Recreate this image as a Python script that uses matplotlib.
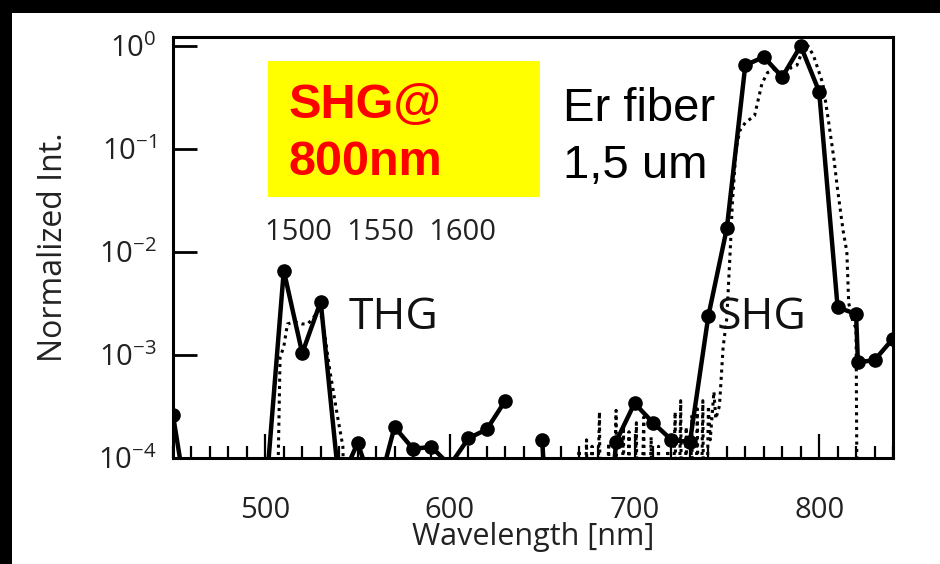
import numpy as np
import matplotlib
matplotlib.use("Agg")
import matplotlib.pyplot as plt
from matplotlib.patches import Rectangle
from matplotlib.ticker import LogLocator, MultipleLocator, NullLocator

# measured harmonic spectrum (solid, markers); NaN = no data point
wl_meas = [450, 460, 470, 480, 490, 500, 510, 520, 530, 540, 550, 560, 570,
           580, 590, 600, 610, 620, 630, 640, 650, 660, 670, 680, 690, 700,
           710, 720, 730, 740, 750, 760, 770, 780, 790, 800, 810, 820, 821,
           830, 840]
int_meas = [2.6e-4, 2e-5, 1e-6, 1e-6, 1e-6, 3.9e-5, 6.6e-3, 1.04e-3, 3.3e-3,
            5.5e-5, 1.4e-4, 4.2e-5, 2.0e-4, 1.23e-4, 1.28e-4, 8.5e-5, 1.55e-4,
            1.9e-4, 3.6e-4, np.nan, 1.5e-4, 1e-7, np.nan, 1e-6, 1.44e-4,
            3.4e-4, 2.2e-4, 1.5e-4, 1.43e-4, 2.4e-3, 1.7e-2, 0.65, 0.78, 0.50,
            1.0, 0.36, 2.9e-3, 2.5e-3, 8.5e-4, 8.9e-4, 1.44e-3]

# reference spectrum (dotted)
wl_ref = [505, 508, 510, 512, 516, 520, 523, 526, 529, 531, 535, 539, 542, 545,
          668, 670, 671, 674, 675, 677, 678, 681, 682, 686, 687, 690, 691, 694,
          695, 697, 698, 701, 702, 705, 706, 709, 710, 713, 714, 718, 719, 722,
          723, 725, 726, 728, 729, 731, 732, 734, 735, 737, 738, 740, 741, 743,
          744, 746, 748, 750, 752, 753, 755, 757, 760, 765, 769, 772, 776, 781,
          785, 788, 791, 794, 797, 802, 805, 808, 810, 813, 815, 816, 818, 820,
          821]
int_ref = [1e-6, 9.5e-4, 1.2e-3, 2.0e-3, 2.1e-3, 2.0e-3, 2.0e-3, 2.3e-3, 2.7e-3,
           2.2e-3, 7e-4, 2.6e-4, 1.3e-4, 1e-6,
           1e-6, 1.2e-4, 1e-6, 1.5e-4, 1e-6, 1.3e-4, 1e-6, 2.8e-4, 1e-6, 1.4e-4,
           1e-6, 2.9e-4, 1e-6, 2.0e-4, 1e-6, 1.8e-4, 1e-6, 2.2e-4, 1e-6, 2.5e-4,
           1e-6, 1.6e-4, 1e-6, 1.3e-4, 1e-6, 1.2e-4, 1e-6, 2.8e-4, 1e-6, 3.6e-4,
           1e-6, 2.0e-4, 1e-6, 2.6e-4, 1e-6, 3.0e-4, 1e-6, 3.6e-4, 1e-6, 3.2e-4,
           1.5e-4, 4.4e-4, 2.4e-4, 3.2e-4, 1.2e-3, 2.3e-3, 1.2e-2, 3.0e-2, 0.10,
           0.15, 0.18, 0.21, 0.43, 0.55, 0.60, 0.52, 0.62, 0.65, 0.90, 1.0, 0.80,
           0.43, 0.19, 0.08, 0.04, 0.016, 0.01, 3.2e-3, 2.2e-3, 1.8e-3, 1e-6]

plt.rcParams["font.family"] = ["Open Sans", "DejaVu Sans"]
plt.rcParams["mathtext.fontset"] = "custom"
plt.rcParams["mathtext.rm"] = "Open Sans"
plt.rcParams["axes.unicode_minus"] = False

fig = plt.figure(figsize=(9.4, 5.64), dpi=100, facecolor="white")
# black frame strips on top and left
fig.patches.append(Rectangle((0, 1 - 13 / 564), 1, 13 / 564, transform=fig.transFigure,
                             facecolor="black", edgecolor="none", zorder=-1))
fig.patches.append(Rectangle((0, 0), 12 / 940, 1, transform=fig.transFigure,
                             facecolor="black", edgecolor="none", zorder=-1))

ax = fig.add_axes([173 / 940, 1 - 458 / 564, 720 / 940, 421 / 564])
ax.plot(wl_ref, int_ref, color="black", lw=2.2, linestyle=(0, (1, 1.4)))
ax.plot(wl_meas, int_meas, color="black", lw=3.2, marker="o", ms=9.5)

ax.set_yscale("log")
ax.set_xlim(450, 840)
ax.set_ylim(1e-4, 1.22)
ax.xaxis.set_major_locator(MultipleLocator(100))
ax.xaxis.set_minor_locator(MultipleLocator(10))
ax.yaxis.set_major_locator(LogLocator(base=10, numticks=10))
ax.yaxis.set_minor_locator(NullLocator())

for s in ax.spines.values():
    s.set_linewidth(2.2)
ax.tick_params(axis="x", which="major", direction="in", length=17, width=1.6,
               labelsize=21, pad=27, top=False)
ax.tick_params(axis="x", which="minor", direction="in", length=9, width=1.6, top=False)
ax.tick_params(axis="y", which="major", direction="in", length=17, width=2,
               labelsize=21, pad=12, right=False)
for lbl in ax.get_xticklabels() + ax.get_yticklabels():
    lbl.set_color("#222222")

ax.set_xlabel("Wavelength [nm]", fontsize=22, color="#222222", labelpad=-2)
ax.set_ylabel("Normalized Int.", fontsize=23, color="#222222", labelpad=20)

# yellow label box
ax.add_patch(Rectangle((0.132, 0.620), 0.378, 0.323, transform=ax.transAxes,
                       facecolor="#ffff00", edgecolor="none", zorder=3))
arial = ["Liberation Sans", "DejaVu Sans"]
ax.text(0.160, 0.808, "SHG@", transform=ax.transAxes, fontsize=35,
        fontweight="bold", color="red", family=arial, va="baseline", zorder=4)
ax.text(0.160, 0.672, "800nm", transform=ax.transAxes, fontsize=35,
        fontweight="bold", color="red", family=arial, va="baseline", zorder=4)
ax.text(0.542, 0.800, "Er fiber", transform=ax.transAxes, fontsize=34,
        color="black", family=arial, va="baseline")
ax.text(0.542, 0.664, "1,5 um", transform=ax.transAxes, fontsize=34,
        color="black", family=arial, va="baseline")

ax.text(562.5, 10 ** -1.81, "1500  1550  1600", fontsize=21, color="#222222",
        ha="center", va="center")
ax.text(545, 10 ** -2.64, "THG", fontsize=32, color="#111111", ha="left", va="center")
ax.text(744.5, 10 ** -2.64, "SHG", fontsize=32, color="#111111", ha="left", va="center")

fig.savefig("out.png", dpi=100, facecolor="white")
